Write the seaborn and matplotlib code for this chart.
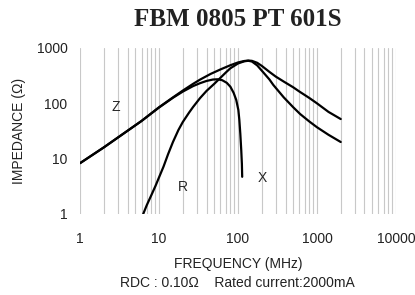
import seaborn as sns
import matplotlib.pyplot as plt
import matplotlib.ticker as mticker
import pandas as pd

# values (MHz, ohm)
z_freq = [1, 2, 4, 6, 10, 15, 20, 27, 33, 45, 60, 80, 100, 120, 135, 150, 175, 200, 250, 300,
          380, 500, 600, 800, 1000, 1400, 2000]
z_imp = [8.3, 16, 32, 48, 85, 128, 170, 225, 268, 340, 410, 488, 548, 582, 592, 586, 540, 475,
         370, 305, 247, 195, 163, 125, 100, 70, 52]

r_freq = [6.3, 7, 8, 9, 10, 11.4, 13, 15, 17.6, 20, 24, 27, 33, 40, 50, 60, 70, 80, 100,
          120, 135, 150, 175, 210, 250, 280, 380, 500, 613, 800, 1000, 1400, 2000]
r_imp = [1, 1.45, 2.2, 3.2, 4.6, 7.2, 12, 20, 33, 46, 68, 86, 124, 168, 225, 290, 360, 430,
         525, 575, 588, 570, 485, 360, 270, 215, 128, 85, 64, 47, 37, 27, 20]

x_freq = [1, 2, 4, 6, 10, 15, 20, 27, 33, 40, 48, 55, 63, 72, 80, 88, 95, 101, 104, 107, 110,
          112, 113]
x_imp = [8.3, 16, 32, 48, 84, 126, 163, 205, 231, 254, 269, 272, 262, 235, 200, 155, 115, 76,
         50, 28, 14, 8, 4.7]

curves = pd.concat([
    pd.DataFrame({"freq": z_freq, "imp": z_imp, "curve": "Z"}),
    pd.DataFrame({"freq": r_freq, "imp": r_imp, "curve": "R"}),
    pd.DataFrame({"freq": x_freq, "imp": x_imp, "curve": "X"}),
])

sns.set_theme(style="white")
plt.rcParams["font.family"] = ["Liberation Sans", "DejaVu Sans"]

fig = plt.figure(figsize=(4.15, 2.95), dpi=100)
ax = fig.add_axes([0.193, 0.2746, 0.761, 0.5627])

for name in ["Z", "R", "X"]:
    sns.lineplot(data=curves[curves["curve"] == name], x="freq", y="imp",
                 color="black", linewidth=1.6, ax=ax, sort=False)

ax.set_xscale("log")
ax.set_yscale("log")
ax.set_xlim(1, 10000)
ax.set_ylim(1, 1000)

ax.xaxis.set_major_locator(mticker.FixedLocator([1, 10, 100, 1000, 10000]))
ax.xaxis.set_major_formatter(mticker.FixedFormatter(["1", "10", "100", "1000", "10000"]))
ax.xaxis.set_minor_locator(mticker.LogLocator(base=10, subs=range(2, 10)))
ax.yaxis.set_major_locator(mticker.FixedLocator([1, 10, 100, 1000]))
ax.yaxis.set_major_formatter(mticker.FixedFormatter(["1", "10", "100", "1000"]))
ax.yaxis.set_minor_locator(mticker.NullLocator())
ax.xaxis.set_minor_formatter(mticker.NullFormatter())

ax.grid(True, which="both", axis="x", color="#c8c8c8", linewidth=0.8)
ax.grid(False, axis="y")
ax.set_axisbelow(True)
sns.despine(ax=ax, left=True, bottom=True)
ax.tick_params(axis="both", which="both", length=0, labelsize=10, colors="#222222")
ax.tick_params(axis="x", pad=13)
ax.tick_params(axis="y", pad=9)

ax.set_xlabel("FREQUENCY (MHz)", fontsize=10, color="#222222", labelpad=8)
ax.set_ylabel("IMPEDANCE (Ω)", fontsize=10, color="#222222", labelpad=8)

ax.text(2.8, 86, "Z", fontsize=10, ha="center", va="center")
ax.text(20, 3.1, "R", fontsize=10, ha="center", va="center")
ax.text(205, 4.5, "X", fontsize=10, ha="center", va="center")

fig.text(0.573, 0.935, "FBM 0805 PT 601S", fontsize=18, fontweight="bold",
         family="Liberation Serif", ha="center", va="center", color="#222222")
fig.text(0.573, 0.04, "RDC : 0.10Ω    Rated current:2000mA", fontsize=10,
         ha="center", va="center", color="#222222")

fig.savefig("out.png", dpi=100)
